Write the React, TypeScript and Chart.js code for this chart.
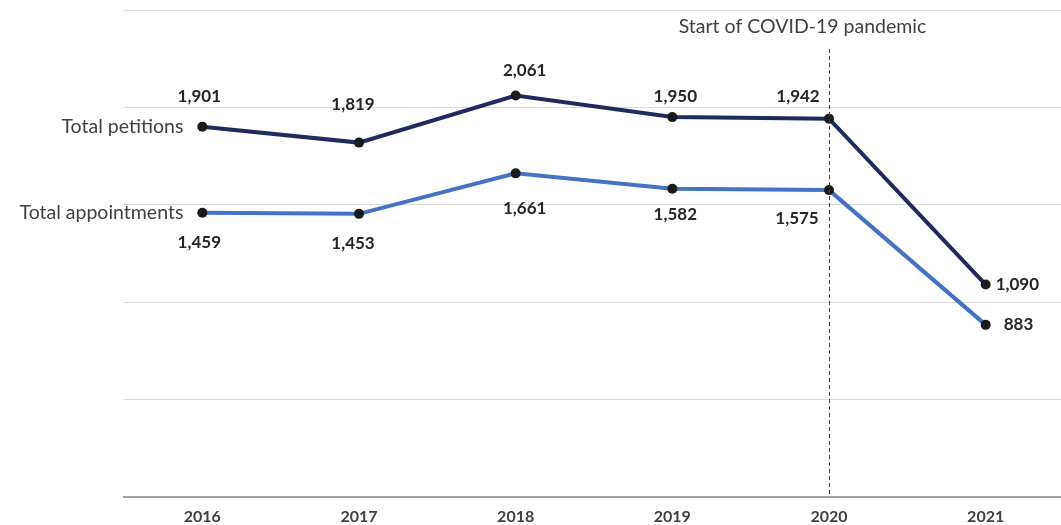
import React, { useEffect, useRef } from 'react';
import { Chart, registerables } from 'chart.js';

Chart.register(...registerables);

const years = ['2016', '2017', '2018', '2019', '2020', '2021'];
const petitions = [1901, 1819, 2061, 1950, 1942, 1090];
const appointments = [1459, 1453, 1661, 1582, 1575, 883];
const seriesNames = ['Total petitions', 'Total appointments'];
const pandemicYear = '2020';
const pandemicLabel = 'Start of COVID-19 pandemic';
const yMin = 0;
const yMax = 2500;
const yStep = 500;

// label placement relative to each point: [dx, dy, align]
const petitionLabelOffsets: [number, number, CanvasTextAlign][] = [
  [-3, -30, 'center'], [-6, -38, 'center'], [9, -25, 'center'], [3, -21, 'center'], [-31, -22, 'center'], [10, 0, 'left'],
];
const appointmentLabelOffsets: [number, number, CanvasTextAlign][] = [
  [-3, 30, 'center'], [-6, 30, 'center'], [9, 35, 'center'], [3, 26, 'center'], [-32, 28, 'center'], [18, 0, 'left'],
];

const FONT = 'Lato, "Open Sans", sans-serif';

const fmt = (v: number) => v.toLocaleString('en-US');

const annotations = {
  id: 'annotations',
  afterDatasetsDraw(chart: any) {
    const { ctx, scales } = chart;
    const x = scales.x;
    const y = scales.y;
    ctx.save();
    const px = Math.round(x.getPixelForValue(years.indexOf(pandemicYear))) + 0.5;
    ctx.strokeStyle = '#404040';
    ctx.lineWidth = 1;
    ctx.setLineDash([4, 3]);
    ctx.beginPath();
    ctx.moveTo(px, 49);
    ctx.lineTo(px, y.getPixelForValue(0));
    ctx.stroke();
    ctx.setLineDash([]);
    ctx.fillStyle = '#404040';
    ctx.font = `19.5px ${FONT}`;
    ctx.textAlign = 'center';
    ctx.textBaseline = 'middle';
    ctx.fillText(pandemicLabel, px - 27, 27);

    const offsetsList = [petitionLabelOffsets, appointmentLabelOffsets];
    chart.data.datasets.forEach((ds: any, di: number) => {
      const meta = chart.getDatasetMeta(di);
      const p0 = meta.data[0];
      ctx.font = `19.5px ${FONT}`;
      ctx.fillStyle = '#404040';
      ctx.textAlign = 'right';
      ctx.textBaseline = 'middle';
      ctx.fillText(seriesNames[di], p0.x - 19, p0.y);
      ctx.font = `bold 17px ${FONT}`;
      ctx.fillStyle = '#262626';
      meta.data.forEach((pt: any, i: number) => {
        const [dx, dy, align] = offsetsList[di][i];
        ctx.textAlign = align;
        ctx.fillText(fmt(ds.data[i]), pt.x + dx, pt.y + dy);
      });
    });
    ctx.restore();
  },
};

export default function App() {
  const ref = useRef<HTMLCanvasElement>(null);
  useEffect(() => {
    if (!ref.current) return;
    const chart = new Chart(ref.current, {
      type: 'line',
      data: {
        labels: years,
        datasets: [
          {
            label: seriesNames[0],
            data: petitions,
            borderColor: '#1f2a5e',
            borderWidth: 4,
            pointRadius: 5,
            pointBackgroundColor: '#1a1a1a',
            pointBorderColor: '#1a1a1a',
            pointBorderWidth: 0,
            tension: 0,
          },
          {
            label: seriesNames[1],
            data: appointments,
            borderColor: '#4472c4',
            borderWidth: 4,
            pointRadius: 5,
            pointBackgroundColor: '#1a1a1a',
            pointBorderColor: '#1a1a1a',
            pointBorderWidth: 0,
            tension: 0,
          },
        ],
      },
      options: {
        animation: false,
        responsive: true,
        maintainAspectRatio: false,
        layout: { padding: { left: 124, top: 10, right: 0, bottom: 0 } },
        plugins: {
          legend: { display: false },
          tooltip: { enabled: false },
        },
        scales: {
          x: {
            offset: true,
            grid: { display: false, drawTicks: false },
            border: { display: true, color: '#a6a6a6', width: 2 },
            ticks: {
              color: '#404040',
              font: { family: FONT, size: 16, weight: 'bold' },
              padding: 10,
            },
          },
          y: {
            min: yMin,
            max: yMax,
            ticks: { display: false, stepSize: yStep },
            grid: { color: '#d9d9d9', lineWidth: 1, drawTicks: false },
            border: { display: false },
          },
        },
      },
      plugins: [annotations],
    });
    return () => chart.destroy();
  }, []);
  return (
    <div style={{ position: 'fixed', left: 0, top: 0, width: 1061, height: 525, overflow: 'hidden', background: '#fff' }}>
      <div style={{ position: 'relative', width: 1069, height: 536 }}>
        <canvas ref={ref} />
      </div>
    </div>
  );
}
